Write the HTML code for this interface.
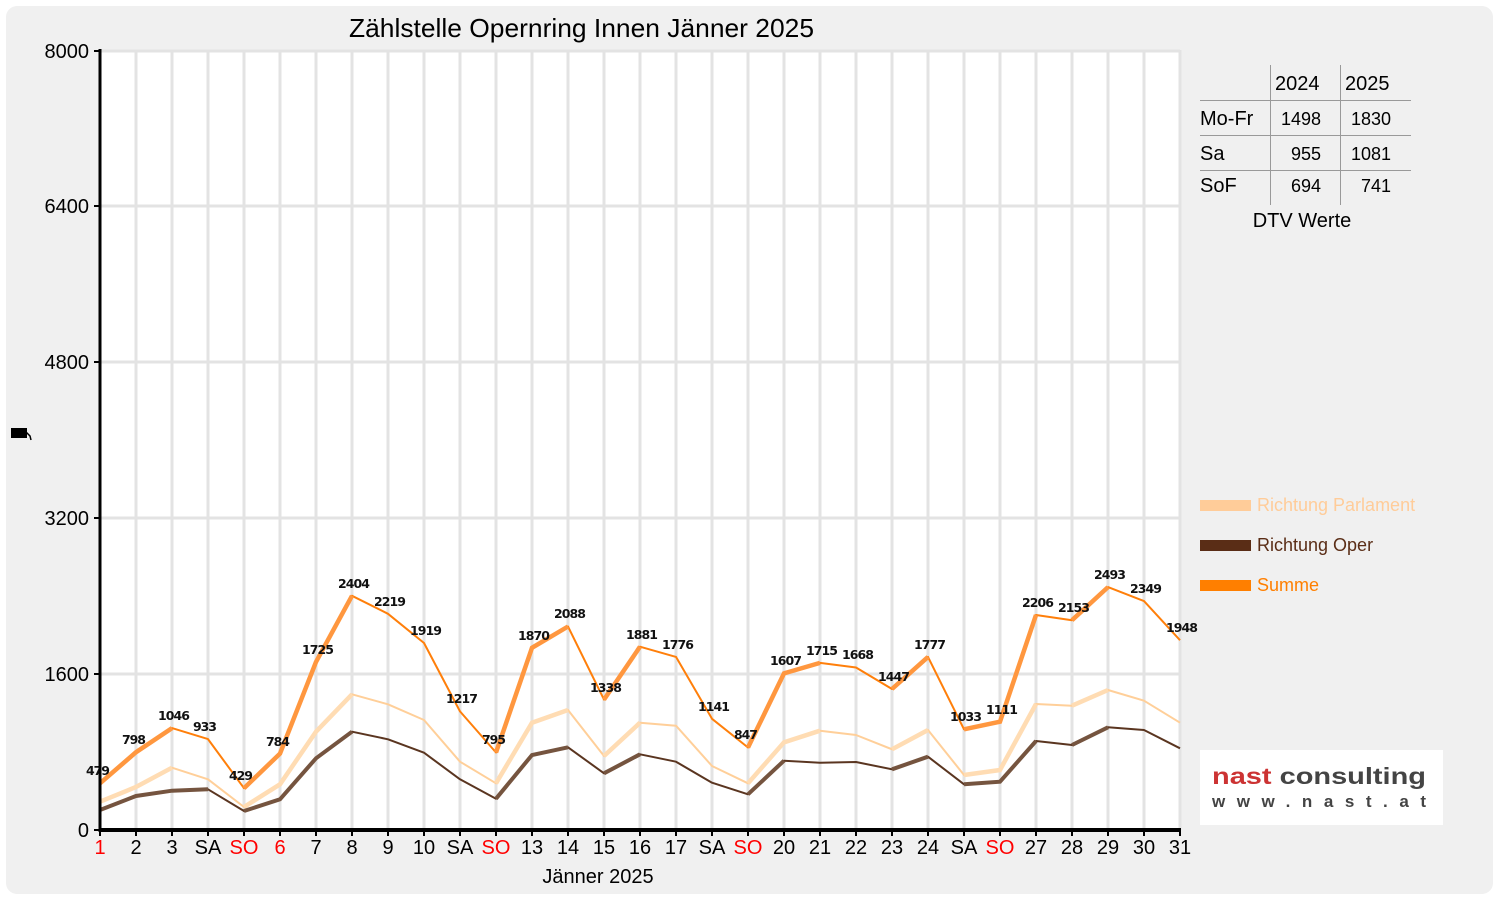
<!DOCTYPE html>
<html><head><meta charset="utf-8"><style>
html,body{margin:0;padding:0;background:#fff;}
svg{display:block;}
</style></head><body>
<svg width="1500" height="900" viewBox="0 0 1500 900" xmlns="http://www.w3.org/2000/svg" font-family="Liberation Sans, DejaVu Sans, sans-serif">
<rect x="6" y="6" width="1487" height="888" rx="11" fill="#f0f0f0"/>
<!-- plot area -->
<rect x="100" y="50" width="1080" height="780" fill="#ffffff"/>
<g stroke="#e3e3e3" stroke-width="3">
<line x1="136" y1="50" x2="136" y2="830"/><line x1="172" y1="50" x2="172" y2="830"/><line x1="208" y1="50" x2="208" y2="830"/><line x1="244" y1="50" x2="244" y2="830"/><line x1="280" y1="50" x2="280" y2="830"/><line x1="316" y1="50" x2="316" y2="830"/><line x1="352" y1="50" x2="352" y2="830"/><line x1="388" y1="50" x2="388" y2="830"/><line x1="424" y1="50" x2="424" y2="830"/><line x1="460" y1="50" x2="460" y2="830"/><line x1="496" y1="50" x2="496" y2="830"/><line x1="532" y1="50" x2="532" y2="830"/><line x1="568" y1="50" x2="568" y2="830"/><line x1="604" y1="50" x2="604" y2="830"/><line x1="640" y1="50" x2="640" y2="830"/><line x1="676" y1="50" x2="676" y2="830"/><line x1="712" y1="50" x2="712" y2="830"/><line x1="748" y1="50" x2="748" y2="830"/><line x1="784" y1="50" x2="784" y2="830"/><line x1="820" y1="50" x2="820" y2="830"/><line x1="856" y1="50" x2="856" y2="830"/><line x1="892" y1="50" x2="892" y2="830"/><line x1="928" y1="50" x2="928" y2="830"/><line x1="964" y1="50" x2="964" y2="830"/><line x1="1000" y1="50" x2="1000" y2="830"/><line x1="1036" y1="50" x2="1036" y2="830"/><line x1="1072" y1="50" x2="1072" y2="830"/><line x1="1108" y1="50" x2="1108" y2="830"/><line x1="1144" y1="50" x2="1144" y2="830"/><line x1="1180" y1="50" x2="1180" y2="830"/>
<line x1="100" y1="674" x2="1180" y2="674"/><line x1="100" y1="518" x2="1180" y2="518"/><line x1="100" y1="362" x2="1180" y2="362"/><line x1="100" y1="206" x2="1180" y2="206"/><line x1="100" y1="51" x2="1180" y2="51"/>
</g>

<!-- Parlament -->
<polyline fill="none" stroke="#ffcf99" stroke-width="2" stroke-linejoin="round" points="100,801.7 136,787 172,767.7 208,779.3 244,807 280,784.3 316,731.7 352,694.3 388,704.3 424,720 460,761.7 496,783.3 532,722.7 568,710 604,756 640,722.7 676,725.7 712,766 748,783.3 784,742.3 820,730.7 856,735 892,749.3 928,730 964,775 1000,770 1036,704 1072,705.7 1108,690 1144,700.7 1180,722.7"/>
<path fill="none" stroke="#ffdcb3" stroke-width="4.5" d="M100,801.7L136,787L172,767.7 M244,807L280,784.3L316,731.7L352,694.3 M496,783.3L532,722.7L568,710 M604,756L640,722.7 M748,783.3L784,742.3L820,730.7 M892,749.3L928,730 M964,775L1000,770L1036,704 M1072,705.7L1108,690"/>

<!-- Oper -->
<polyline fill="none" stroke="#5a3520" stroke-width="2" stroke-linejoin="round" points="100,810 136,796 172,790.7 208,789.3 244,811 280,799.3 316,758.3 352,731.7 388,739.3 424,752.7 460,779.3 496,798.7 532,755 568,747.3 604,773.3 640,754.3 676,761.7 712,782.7 748,794.3 784,760.7 820,762.7 856,762 892,769.3 928,756.7 964,784.3 1000,781.7 1036,741 1072,745 1108,727.3 1144,730 1180,748.3"/>
<path fill="none" stroke="#75543f" stroke-width="4" d="M100,810L136,796L172,790.7L208,789.3 M244,811L280,799.3L316,758.3L352,731.7 M496,798.7L532,755L568,747.3 M604,773.3L640,754.3 M748,794.3L784,760.7 M892,769.3L928,756.7 M964,784.3L1000,781.7L1036,741 M1072,745L1108,727.3"/>

<!-- Summe -->
<polyline fill="none" stroke="#ff7f0a" stroke-width="2" stroke-linejoin="round" points="100,783.3 136,752.2 172,728.1 208,739.1 244,788.2 280,753.6 316,661.9 352,595.8 388,613.8 424,643 460,711.4 496,752.5 532,647.8 568,626.5 604,699.6 640,646.7 676,656.9 712,718.8 748,747.5 784,673.4 820,662.9 856,667.5 892,689 928,656.9 964,729.3 1000,721.7 1036,615 1072,620.2 1108,587.1 1144,601.1 1180,640.2"/>
<path fill="none" stroke="#ff973f" stroke-width="4.5" d="M100,783.3L136,752.2L172,728.1 M244,788.2L280,753.6L316,661.9L352,595.8 M496,752.5L532,647.8L568,626.5 M604,699.6L640,646.7 M748,747.5L784,673.4L820,662.9 M892,689L928,656.9 M964,729.3L1000,721.7L1036,615 M1072,620.2L1108,587.1"/>

<!-- value labels -->
<g font-family="DejaVu Sans, Liberation Sans, sans-serif" font-weight="bold" font-size="12.5" fill="#111" text-anchor="middle" lengthAdjust="spacingAndGlyphs">
<text x="98" y="775" textLength="24">479</text><text x="134" y="744" textLength="24">798</text><text x="174" y="720" textLength="32">1046</text><text x="205" y="731" textLength="24">933</text><text x="241" y="780" textLength="24">429</text><text x="278" y="746" textLength="24">784</text>
<text x="318" y="654" textLength="32">1725</text><text x="354" y="588" textLength="32">2404</text><text x="390" y="606" textLength="32">2219</text><text x="426" y="635" textLength="32">1919</text><text x="462" y="703" textLength="32">1217</text><text x="494" y="744" textLength="24">795</text>
<text x="534" y="640" textLength="32">1870</text><text x="570" y="618" textLength="32">2088</text><text x="606" y="692" textLength="32">1338</text><text x="642" y="639" textLength="32">1881</text><text x="678" y="649" textLength="32">1776</text><text x="714" y="711" textLength="32">1141</text><text x="746" y="739" textLength="24">847</text>
<text x="786" y="665" textLength="32">1607</text><text x="822" y="655" textLength="32">1715</text><text x="858" y="659" textLength="32">1668</text><text x="894" y="681" textLength="32">1447</text><text x="930" y="649" textLength="32">1777</text><text x="966" y="721" textLength="32">1033</text><text x="1002" y="714" textLength="32">1111</text>
<text x="1038" y="607" textLength="32">2206</text><text x="1074" y="612" textLength="32">2153</text><text x="1110" y="579" textLength="32">2493</text><text x="1146" y="593" textLength="32">2349</text><text x="1182" y="632" textLength="32">1948</text>
</g>

<!-- axes -->
<line x1="100" y1="49" x2="100" y2="832" stroke="#000" stroke-width="3"/>
<line x1="99" y1="830" x2="1181" y2="830" stroke="#000" stroke-width="4"/>
<g stroke="#000" stroke-width="2">
<line x1="94" y1="51" x2="100" y2="51"/><line x1="94" y1="206" x2="100" y2="206"/><line x1="94" y1="362" x2="100" y2="362"/><line x1="94" y1="518" x2="100" y2="518"/><line x1="94" y1="674" x2="100" y2="674"/><line x1="94" y1="830" x2="100" y2="830"/>
<line x1="100" y1="830" x2="100" y2="836"/><line x1="136" y1="830" x2="136" y2="836"/><line x1="172" y1="830" x2="172" y2="836"/><line x1="208" y1="830" x2="208" y2="836"/><line x1="244" y1="830" x2="244" y2="836"/><line x1="280" y1="830" x2="280" y2="836"/><line x1="316" y1="830" x2="316" y2="836"/><line x1="352" y1="830" x2="352" y2="836"/><line x1="388" y1="830" x2="388" y2="836"/><line x1="424" y1="830" x2="424" y2="836"/><line x1="460" y1="830" x2="460" y2="836"/><line x1="496" y1="830" x2="496" y2="836"/><line x1="532" y1="830" x2="532" y2="836"/><line x1="568" y1="830" x2="568" y2="836"/><line x1="604" y1="830" x2="604" y2="836"/><line x1="640" y1="830" x2="640" y2="836"/><line x1="676" y1="830" x2="676" y2="836"/><line x1="712" y1="830" x2="712" y2="836"/><line x1="748" y1="830" x2="748" y2="836"/><line x1="784" y1="830" x2="784" y2="836"/><line x1="820" y1="830" x2="820" y2="836"/><line x1="856" y1="830" x2="856" y2="836"/><line x1="892" y1="830" x2="892" y2="836"/><line x1="928" y1="830" x2="928" y2="836"/><line x1="964" y1="830" x2="964" y2="836"/><line x1="1000" y1="830" x2="1000" y2="836"/><line x1="1036" y1="830" x2="1036" y2="836"/><line x1="1072" y1="830" x2="1072" y2="836"/><line x1="1108" y1="830" x2="1108" y2="836"/><line x1="1144" y1="830" x2="1144" y2="836"/><line x1="1180" y1="830" x2="1180" y2="836"/>
</g>

<!-- y tick labels -->
<g font-size="20" fill="#000" text-anchor="end">
<text x="89" y="58">8000</text><text x="89" y="213">6400</text><text x="89" y="369">4800</text><text x="89" y="525">3200</text><text x="89" y="681">1600</text><text x="89" y="837">0</text>
</g>
<!-- x tick labels -->
<g font-size="20" fill="#000" text-anchor="middle">
<text x="100" y="854" fill="#ff0000">1</text><text x="136" y="854">2</text><text x="172" y="854">3</text><text x="208" y="854">SA</text><text x="244" y="854" fill="#ff0000">SO</text><text x="280" y="854" fill="#ff0000">6</text><text x="316" y="854">7</text><text x="352" y="854">8</text><text x="388" y="854">9</text><text x="424" y="854">10</text><text x="460" y="854">SA</text><text x="496" y="854" fill="#ff0000">SO</text><text x="532" y="854">13</text><text x="568" y="854">14</text><text x="604" y="854">15</text><text x="640" y="854">16</text><text x="676" y="854">17</text><text x="712" y="854">SA</text><text x="748" y="854" fill="#ff0000">SO</text><text x="784" y="854">20</text><text x="820" y="854">21</text><text x="856" y="854">22</text><text x="892" y="854">23</text><text x="928" y="854">24</text><text x="964" y="854">SA</text><text x="1000" y="854" fill="#ff0000">SO</text><text x="1036" y="854">27</text><text x="1072" y="854">28</text><text x="1108" y="854">29</text><text x="1144" y="854">30</text><text x="1180" y="854">31</text>
</g>
<text x="598" y="883" font-size="20" text-anchor="middle" fill="#000">Jänner 2025</text>
<text x="349" y="37" font-size="26" fill="#000" textLength="465" lengthAdjust="spacingAndGlyphs">Zählstelle Opernring Innen Jänner 2025</text>

<!-- y axis tiny label -->
<rect x="11" y="428" width="16" height="10" fill="#000"/>
<path d="M26,432 L30,436 L31,440" stroke="#000" stroke-width="1.5" fill="none"/>

<!-- DTV table -->
<g stroke="#999" stroke-width="1">
<line x1="1270.5" y1="65" x2="1270.5" y2="205"/><line x1="1340.5" y1="65" x2="1340.5" y2="205"/>
<line x1="1200" y1="100.5" x2="1411" y2="100.5"/><line x1="1200" y1="135.5" x2="1411" y2="135.5"/><line x1="1200" y1="170.5" x2="1411" y2="170.5"/>
</g>
<g font-size="20" fill="#000">
<text x="1275" y="90">2024</text><text x="1345" y="90">2025</text>
<text x="1200" y="125">Mo-Fr</text><text x="1200" y="160">Sa</text><text x="1200" y="192">SoF</text>
<text x="1302" y="227" text-anchor="middle">DTV Werte</text>
</g>
<g font-size="18" fill="#000" text-anchor="end">
<text x="1321" y="125">1498</text><text x="1391" y="125">1830</text>
<text x="1321" y="160">955</text><text x="1391" y="160">1081</text>
<text x="1321" y="192">694</text><text x="1391" y="192">741</text>
</g>

<!-- legend -->
<rect x="1200" y="500" width="51" height="11" fill="#ffcc99"/>
<text x="1257" y="511" font-size="18" fill="#ffcc99">Richtung Parlament</text>
<rect x="1200" y="540" width="51" height="11" fill="#5a2d16"/>
<text x="1257" y="551" font-size="18" fill="#5a2d16">Richtung Oper</text>
<rect x="1200" y="580" width="51" height="11" fill="#ff7f00"/>
<text x="1257" y="591" font-size="18" fill="#ff7f00">Summe</text>

<!-- logo -->
<rect x="1200" y="750" width="243" height="75" fill="#ffffff"/>
<text x="1212" y="784" font-size="23" font-weight="bold" textLength="214" lengthAdjust="spacingAndGlyphs"><tspan fill="#cc3333">nast</tspan><tspan fill="#444"> consulting</tspan></text>
<text x="1212" y="807" font-size="17" font-weight="bold" fill="#444" textLength="214" lengthAdjust="spacing">www.nast.at</text>
</svg>
</body></html>
